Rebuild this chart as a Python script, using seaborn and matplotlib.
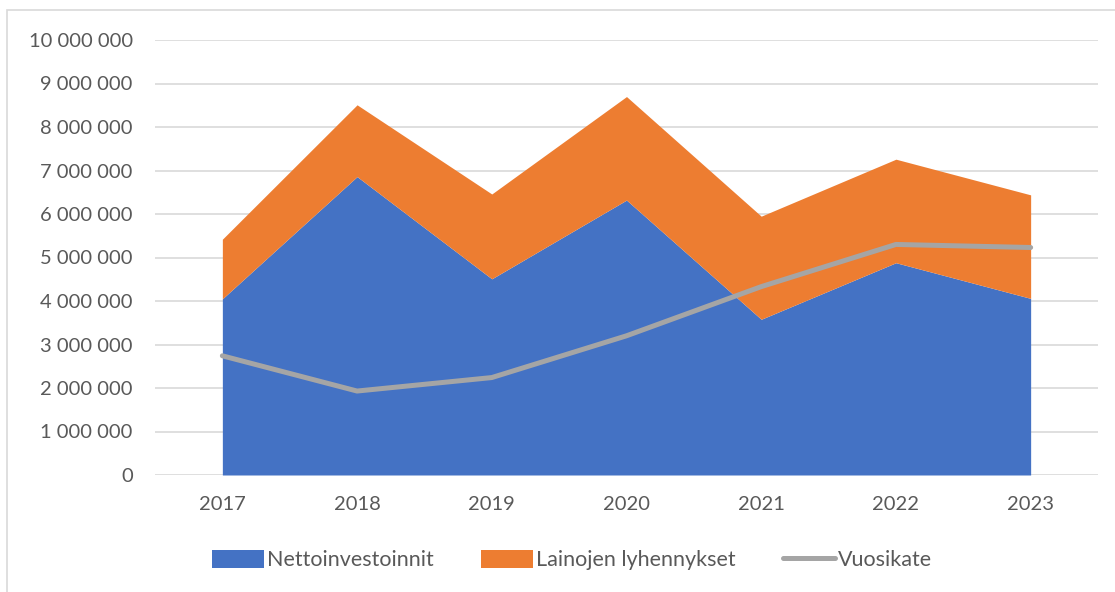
import numpy as np
import pandas as pd
import matplotlib
matplotlib.use('Agg')
import matplotlib.pyplot as plt
import seaborn as sns
from matplotlib.ticker import FuncFormatter
from matplotlib.patches import Rectangle

years = [2017, 2018, 2019, 2020, 2021, 2022, 2023]
nettoinvestoinnit = [4050000, 6860000, 4510000, 6320000, 3580000, 4880000, 4060000]
lainojen_lyhennykset = [1370000, 1650000, 1950000, 2380000, 2370000, 2380000, 2380000]
vuosikate = [2740000, 1930000, 2240000, 3200000, 4330000, 5300000, 5230000]

blue = '#4472C4'
orange = '#ED7D31'
grey = '#A5A5A5'
txt = '#595959'

sns.set_style('white')
plt.rcParams['font.family'] = ['Lato', 'DejaVu Sans']

df = pd.DataFrame({'year': years, 'Vuosikate': vuosikate})

fig = plt.figure(figsize=(11.15, 5.92), dpi=100)
ax = fig.add_axes([155/1115, 1 - 475/592, (1098 - 155)/1115, (475 - 40)/592])

# stacked areas + the line on top
ax.stackplot(years, nettoinvestoinnit, lainojen_lyhennykset,
             colors=[blue, orange], labels=['Nettoinvestoinnit', 'Lainojen lyhennykset'],
             linewidth=0, zorder=2)
sns.lineplot(data=df, x='year', y='Vuosikate', color=grey, linewidth=3.6,
             solid_capstyle='round', label='Vuosikate', ax=ax, zorder=3)

ax.set_xlim(2016.5, 2023.5)
ax.set_ylim(0, 10000000)
ax.set_yticks(np.arange(0, 10000001, 1000000))
ax.set_xticks(years)
ax.yaxis.set_major_formatter(FuncFormatter(lambda v, p: f'{int(v):,}'.replace(',', ' ')))
ax.grid(axis='y', color='#D9D9D9', linewidth=1.2, zorder=0)
ax.set_axisbelow(True)
for s in ax.spines.values():
    s.set_visible(False)
ax.tick_params(axis='y', length=0, pad=16, labelsize=14.5, labelcolor=txt)
ax.tick_params(axis='x', length=0, pad=15, labelsize=14.5, labelcolor=txt)
ax.set_xlabel('')
ax.set_ylabel('')

handles, labels = ax.get_legend_handles_labels()
ax.get_legend().remove()
leg = fig.legend(handles, labels, loc='center', bbox_to_anchor=(572/1115, 1 - 560/592),
                 ncol=3, frameon=False, fontsize=15.5, handlelength=2.4, handleheight=0.95,
                 handletextpad=0.15, columnspacing=2.2)
for t in leg.get_texts():
    t.set_color(txt)

# chart border
fig.patches.append(Rectangle((7/1115, -0.1), 1.2, 1 - 10/592 + 0.1, transform=fig.transFigure,
                             fill=False, edgecolor='#D9D9D9', linewidth=1.2))

fig.savefig('out.png', dpi=100)
